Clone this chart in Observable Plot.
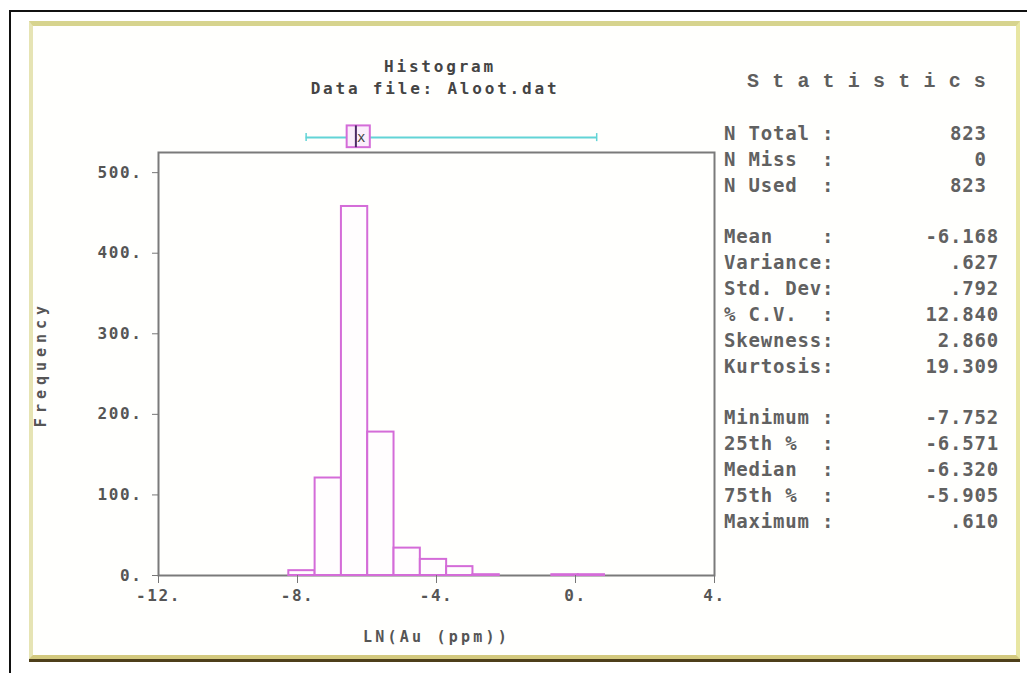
<!DOCTYPE html>
<html>
<head>
<meta charset="utf-8">
<script src="https://cdn.jsdelivr.net/npm/d3@7"></script>
<script src="https://cdn.jsdelivr.net/npm/@observablehq/plot@0.6"></script>
<style>
html, body { margin: 0; padding: 0; background: #fff; width: 1027px; height: 673px; overflow: hidden; position: relative; }
#outer { position: absolute; left: 9px; top: 10px; width: 1100px; height: 700px; border-left: 2px solid #111; border-top: 2px solid #111; }
#panel { position: absolute; left: 29px; top: 21px; width: 991px; height: 638px; box-sizing: border-box;
  background: #fffffd; border-top: 5px solid #d7d48e; border-left: 4px solid #e6e4b4; border-right: 4px solid #e8e6a2;
  border-bottom: 4px solid #d3c97e; box-shadow: 0 3px 0 #4e3f1a; }
#chart { position: absolute; left: 0; top: 0; }
.txt { position: absolute; white-space: pre; font-family: "DejaVu Sans Mono", monospace; }
.ttl { font-size: 16px; font-weight: bold; color: #444; letter-spacing: 2.8px; transform: translate(-50%, -50%); }
#statsTitle { font-family: "Liberation Mono", monospace; font-size: 20px; font-weight: bold; color: #5e5e5e; letter-spacing: 0.6px; }
.row { position: absolute; left: 724px; width: 275px; height: 26px; line-height: 26px; font-family: "DejaVu Sans Mono", monospace;
  font-size: 19px; font-weight: bold; color: #616161; letter-spacing: 0.8px; white-space: pre; }
.row .v { position: absolute; right: 0; top: 0; }
[aria-label="x-axis tick label"], [aria-label="y-axis tick label"] { letter-spacing: 1.6px; font-size: 16px; }
[aria-label="x-axis label"] { letter-spacing: 3.2px; font-size: 15px; }
[aria-label="y-axis label"] { letter-spacing: 5px; font-size: 15px; }
</style>
</head>
<body>
<div id="outer"></div>
<div id="panel"></div>
<div id="chart"></div>
<div id="titles"></div>
<div id="stats"></div>
<script>
// ---- data ----
const chartTitle = "Histogram";
const chartSubtitle = "Data file: Aloot.dat";
const xLabel = "LN(Au (ppm))";
const yLabel = "Frequency";
const xTicks = [-12, -8, -4, 0, 4];
const yTicks = [0, 100, 200, 300, 400, 500];
const binStarts = [-8.25, -7.493, -6.736, -5.979, -5.222, -4.465, -3.708, -2.951, -2.194, -1.437, -0.68, 0.077];
const binEnds   = [-7.493, -6.736, -5.979, -5.222, -4.465, -3.708, -2.951, -2.194, -1.437, -0.68, 0.077, 0.834];
const binCounts = [6, 121, 458, 178, 34, 20, 11, 1, 0, 0, 1, 1];
const statsTitle = "S t a t i s t i c s";
const countLabels = ["N Total :", "N Miss  :", "N Used  :"];
const countValues = ["823", "0", "823"];
const momentLabels = ["Mean    :", "Variance:", "Std. Dev:", "% C.V.  :", "Skewness:", "Kurtosis:"];
const momentValues = ["-6.168", ".627", ".792", "12.840", "2.860", "19.309"];
const quantileLabels = ["Minimum :", "25th %  :", "Median  :", "75th %  :", "Maximum :"];
const quantileValues = ["-7.752", "-6.571", "-6.320", "-5.905", ".610"];

// ---- derived tables ----
const bins = binStarts.map((s, i) => ({x0: s, x1: binEnds[i], count: binCounts[i]})).filter(d => d.count > 0);
const q = quantileValues.map(Number);
const box = {min: q[0], q1: q[1], median: q[2], q3: q[3], max: q[4], mean: Number(momentValues[0])};

// ---- layout (not data) ----
const BOX_Y = 543.5, BOX_LO = 531, BOX_HI = 558, CAP = 5;
const MAGENTA = "#d46cd8", CYAN = "#62d4d6";

const chart = Plot.plot({
  width: 1027, height: 673,
  marginLeft: 158, marginRight: 313, marginTop: 152, marginBottom: 98,
  x: {domain: [-12, 4]},
  y: {domain: [0, 525]},
  style: {background: "transparent", fontFamily: "'DejaVu Sans Mono', monospace", fontSize: "15px", fontWeight: "bold", color: "#555", overflow: "visible"},
  marks: [
    Plot.frame({stroke: "#7a7a7a", strokeWidth: 2}),
    Plot.rect(bins, {x1: "x0", x2: "x1", y1: () => 0, y2: "count", fill: "#fffdfe", stroke: MAGENTA, strokeWidth: 2}),
    Plot.axisX({ticks: xTicks, tickFormat: d => `${d}.`, tickSize: 8, tickPadding: 6, label: xLabel, labelAnchor: "center", labelArrow: "none", labelOffset: 66, stroke: "#777"}),
    Plot.axisY({ticks: yTicks, tickFormat: d => `${d}.`, tickSize: 6, tickPadding: 10, label: yLabel, labelAnchor: "center", labelArrow: "none", labelOffset: 123, stroke: "#777"}),
    Plot.ruleY([box], {x1: "min", x2: "max", y: () => BOX_Y, stroke: CYAN, strokeWidth: 2}),
    Plot.ruleX([box.min, box.max], {x: d => d, y1: () => BOX_Y - CAP, y2: () => BOX_Y + CAP, stroke: CYAN, strokeWidth: 1.5}),
    Plot.rect([box], {x1: "q1", x2: "q3", y1: () => BOX_LO, y2: () => BOX_HI, fill: "#fbeefb", stroke: MAGENTA, strokeWidth: 2}),
    Plot.ruleX([box], {x: "median", y1: () => BOX_LO, y2: () => BOX_HI, stroke: "#4b2a63", strokeWidth: 2}),
    Plot.text([box], {x: "mean", y: () => BOX_Y, text: () => "x", fontSize: 14, fill: "#444", fontWeight: "normal"})
  ]
});
document.getElementById("chart").append(chart);

// ---- titles ----
const titles = document.getElementById("titles");
[[chartTitle, 440, 66], [chartSubtitle, 435, 88]].forEach(([t, x, y]) => {
  const d = document.createElement("div");
  d.className = "txt ttl"; d.textContent = t;
  d.style.left = x + "px"; d.style.top = y + "px";
  titles.append(d);
});

// ---- statistics panel ----
const stats = document.getElementById("stats");
const st = document.createElement("div");
st.id = "statsTitle"; st.className = "txt"; st.textContent = statsTitle;
st.style.left = "747px"; st.style.top = "70px";
stats.append(st);
const groups = [[countLabels, countValues.map(v => v + " ")], [momentLabels, momentValues], [quantileLabels, quantileValues]];
let rowIndex = 0;
groups.forEach(([labels, values]) => {
  labels.forEach((lab, i) => {
    const r = document.createElement("div");
    r.className = "row";
    r.style.top = (133 - 13 + rowIndex * 25.85) + "px";
    r.textContent = lab;
    const v = document.createElement("span");
    v.className = "v"; v.textContent = values[i];
    r.append(v);
    stats.append(r);
    rowIndex++;
  });
  rowIndex++;
});
</script>
</body>
</html>
